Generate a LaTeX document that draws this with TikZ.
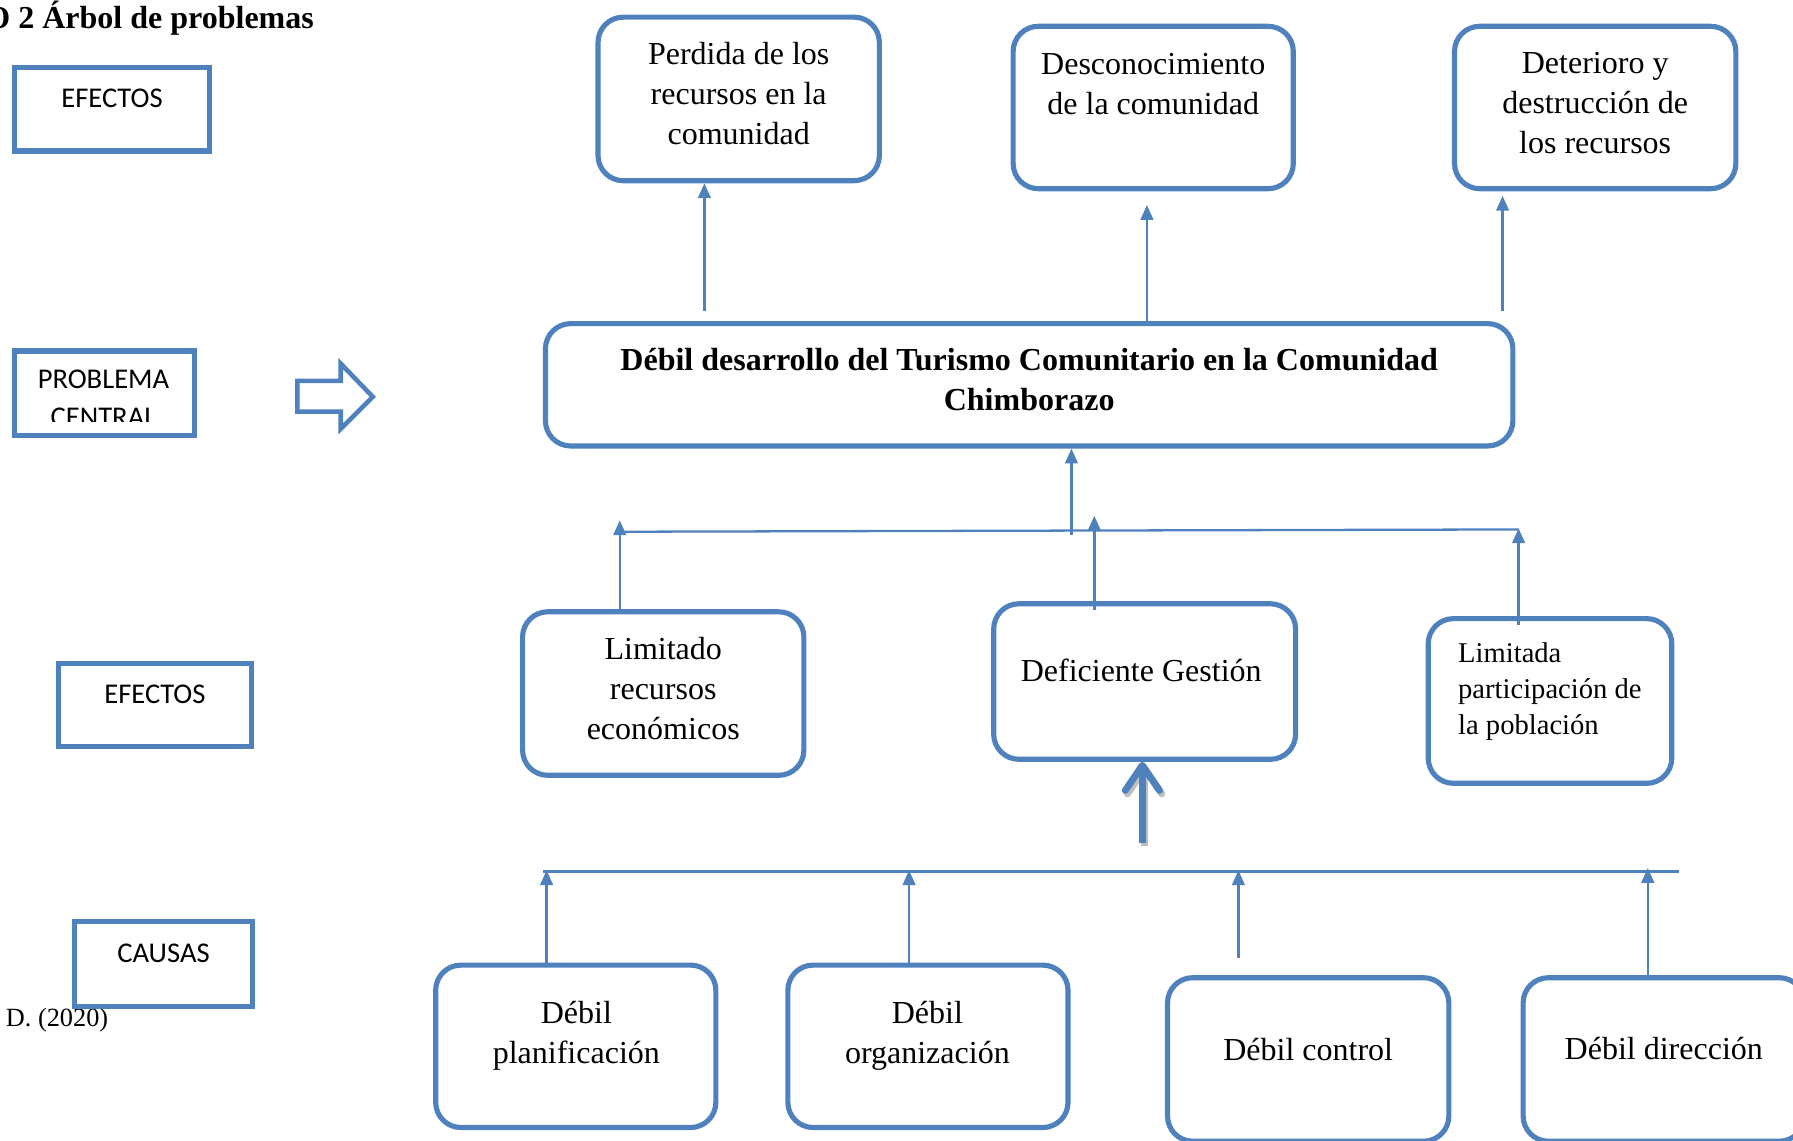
\documentclass[tikz,border=0pt]{standalone}
\usepackage{fontspec}
\setmainfont{Liberation Serif}
\newfontfamily\calibri{Carlito}
\usetikzlibrary{positioning,arrows.meta}

\definecolor{azul}{RGB}{79,129,189}

\begin{document}
\begin{tikzpicture}
[x=1pt, y=-1pt,
 caja/.style={draw=azul, line width=4.5pt, rounded corners=22pt, minimum width=246pt, minimum height=143pt, inner sep=0pt},
 etiqueta/.style={draw=azul, line width=4.5pt, minimum height=73pt, inner sep=0pt},
 texto/.style={align=center, font=\fontsize{28}{35}\selectfont, inner sep=0pt},
 rotulo/.style={align=center, font=\calibri\fontsize{25}{33}\selectfont, inner sep=0pt},
 conn/.style={draw=azul, line width=2.2pt, -{Triangle[length=13pt,width=11pt]}},
 linea/.style={draw=azul, line width=2pt}]
\useasboundingbox (0,0) rectangle (1568,997);

% titulo y fuente
\node[anchor=base west, inner sep=0pt, font=\bfseries\fontsize{28}{34}\selectfont] (titulo) at (-13,25) {O 2 Árbol de problemas};
\node[anchor=base west, inner sep=0pt, font=\fontsize{23}{28}\selectfont] (fuente) at (5,898) {D. (2020)};

% rotulos de la izquierda
\node[etiqueta, minimum width=170pt] (efectosA) at (98,95.5) {};
\node[rotulo] at (98,86) {EFECTOS};
\node[etiqueta, minimum width=157pt, minimum height=74pt] (problema) at (91.5,344) {};
\begin{scope}
\clip (14,309) rectangle (170,369);
\node[rotulo] at (90.5,348.5) {PROBLEMA\\CENTRAL};
\end{scope}
\node[etiqueta, minimum width=169pt] (efectosB) at (135.5,616.5) {};
\node[rotulo] at (135.5,607) {EFECTOS};
\node[etiqueta, minimum width=156pt, minimum height=74pt] (causas) at (143,843) {};
\node[rotulo] at (143,834) {CAUSAS};

\draw[azul, line width=4pt, line join=miter] (260,333) -- (298,333) -- (298,318) -- (326,347)
  -- (298,375) -- (298,360) -- (260,360) -- cycle;

% efectos
\node[caja] (perdida) at (646,86.5) {};
\node[texto] at (646,82) {Perdida de los\\recursos en la\\comunidad};
\node[caja, minimum width=245pt, minimum height=142pt] (descon) at (1008.5,94) {};
\node[texto] at (1008.5,73.5) {Desconocimiento\\de la comunidad};
\node[caja, minimum height=142pt] (deterioro) at (1395,94) {};
\node[texto] at (1395,90.5) {Deterioro y\\destrucción de\\los recursos};

% problema central
\node[caja, minimum width=846pt, minimum height=107pt] (central) at (900,336.5) {};
\node[texto, font=\bfseries\fontsize{28}{35}\selectfont] at (900,331.5)
  {Débil desarrollo del Turismo Comunitario en la Comunidad\\Chimborazo};

% causas directas
\node[caja] (limitado) at (580,606.5) {};
\node[texto] at (580,602) {Limitado\\recursos\\económicos};
\node[caja, minimum width=264pt, minimum height=136pt] (deficiente) at (1001,596) {};
\node[texto] at (998,586) {Deficiente Gestión};
\node[caja, minimum width=213pt, minimum height=144pt] (participacion) at (1355.5,613) {};
\node[texto, align=left, anchor=west, font=\fontsize{25}{31.5}\selectfont] at (1275,604.5)
  {Limitada\\participación de\\la población};

% causas indirectas
\node[caja, minimum width=245pt, minimum height=142pt] (planif) at (503.5,915) {};
\node[texto] at (504,906) {Débil\\planificación};
\node[caja, minimum width=245pt, minimum height=142pt] (organiz) at (811.5,915) {};
\node[texto] at (811,906) {Débil\\organización};
\node[caja] (control) at (1144,926.5) {};
\node[texto] at (1144,918) {Débil control};
\node[caja] (direccion) at (1455,926.5) {};
\node[texto] at (1455,917) {Débil dirección};

% conectores hacia los efectos
\draw[conn] ([xshift=-284pt]central.north) ++(0,-9) -- ([xshift=-30pt]perdida.south);
\draw[conn] ([xshift=103pt]central.north) -- ([xshift=-5.5pt,yshift=-12pt]descon.south);
\draw[conn] ([xshift=414pt]central.north) ++(0,-9) -- ([xshift=-81pt,yshift=-4pt]deterioro.south);

% conectores del nivel medio
\coordinate (mL) at (542,465);
\coordinate (mR) at (1328,463);
\coordinate (nudo) at (937,468);
\coordinate (pA) at (542,455);
\coordinate (pB) at (957,451);
\coordinate (pC) at (1328,462);
\draw[linea] (mL) -- (mR);
\draw[conn] (nudo) -- (central.south -| nudo);
\draw[conn] (limitado.north -| pA) -- (pA);
\draw[conn] (deficiente.north -| pB) ++(0,8) -- (pB);
\draw[conn] (participacion.north -| pC) ++(0,8) -- (pC);

% flecha gruesa
\coordinate (gruesa) at (999,737);
\draw[black!25, line width=6pt, transform canvas={shift={(2pt,-3pt)}},
  -{Straight Barb[length=22pt,width=30pt,round]}] (gruesa) -- (deficiente.south -| gruesa);
\draw[azul, line width=6pt, -{Straight Barb[length=22pt,width=30pt,round]}]
  (gruesa) -- (deficiente.south -| gruesa);

% conectores del nivel inferior
\coordinate (bL) at (475,762);
\coordinate (bR) at (1468,762);
\coordinate (q1) at (478,761);
\coordinate (q2) at (795,761);
\coordinate (q3) at (1083,761);
\coordinate (q4) at (1441,759);
\draw[linea] (bL) -- (bR);
\draw[conn] (planif.north -| q1) -- (q1);
\draw[conn] (organiz.north -| q2) -- (q2);
\draw[conn] (control.north -| q3) ++(0,-15) -- (q3);
\draw[conn] (direccion.north -| q4) -- (q4);
\end{tikzpicture}
\end{document}
